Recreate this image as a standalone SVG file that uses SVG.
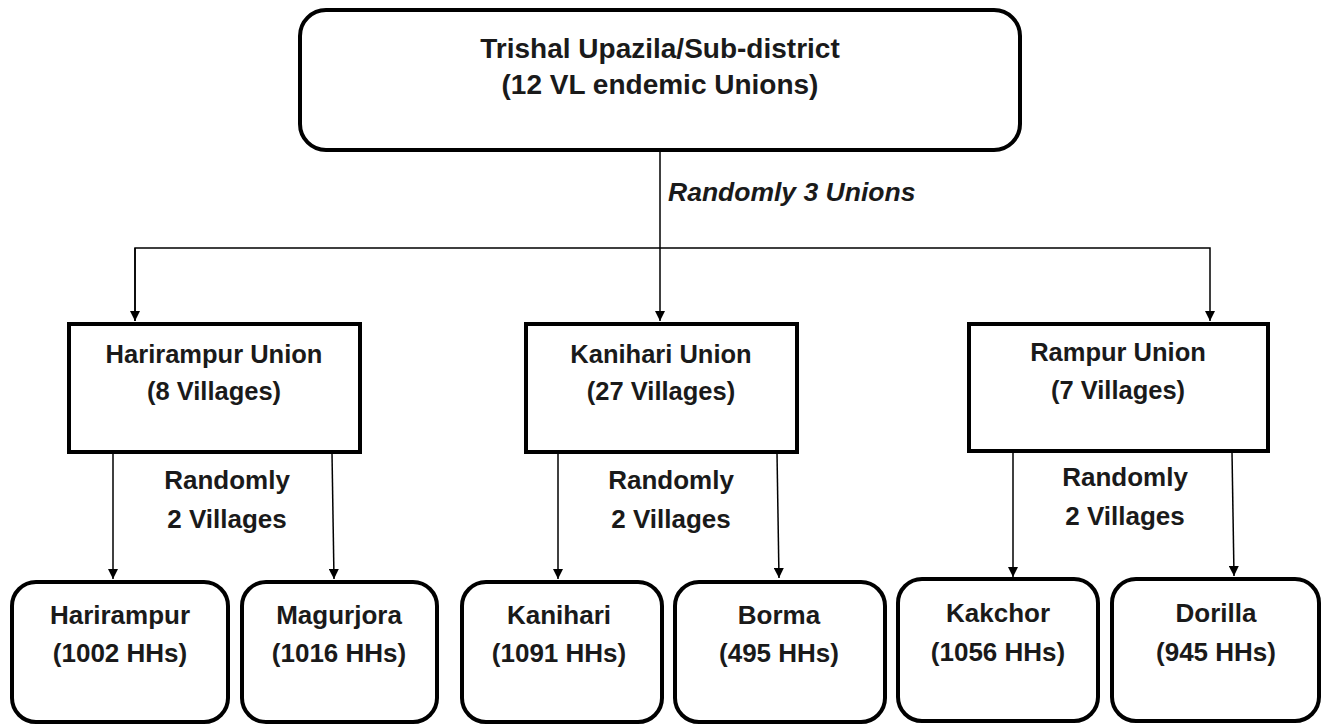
<svg xmlns="http://www.w3.org/2000/svg" width="1323" height="724" viewBox="0 0 1323 724">
<defs>
<marker id="ah" viewBox="0 0 10 10" refX="10" refY="5" markerWidth="10" markerHeight="10" markerUnits="userSpaceOnUse" orient="auto">
<path d="M0,0 L10,5 L0,10 z" fill="#000"/>
</marker>
<style>
.box{fill:#fff;stroke:#000;stroke-width:4}
.t{font-family:"Liberation Sans",Arial,sans-serif;font-weight:bold;font-size:26px;fill:#1a1a1a;text-anchor:middle}
.h{font-size:28px}
.u{font-size:25.5px}
.it{font-family:"Liberation Sans",Arial,sans-serif;font-weight:bold;font-style:italic;font-size:26.5px;fill:#1a1a1a}
.c{fill:none;stroke:#000;stroke-width:1.5}
</style>
</defs>
<rect width="1323" height="724" fill="#fff"/>
<g id="connectors">
<line class="c" x1="660" y1="150" x2="660" y2="321" marker-end="url(#ah)"/>
<polyline class="c" points="135,321 135,248 1210,248 1210,321" marker-end="url(#ah)"/>
<path class="c" d="M135,248 L135,321" marker-end="url(#ah)"/>
<line class="c" x1="113" y1="453" x2="113" y2="579" marker-end="url(#ah)"/>
<line class="c" x1="332" y1="453" x2="334" y2="579" marker-end="url(#ah)"/>
<line class="c" x1="558" y1="453" x2="558" y2="579" marker-end="url(#ah)"/>
<line class="c" x1="777" y1="453" x2="779" y2="578" marker-end="url(#ah)"/>
<line class="c" x1="1013" y1="452" x2="1013" y2="577" marker-end="url(#ah)"/>
<line class="c" x1="1232" y1="452" x2="1234" y2="576" marker-end="url(#ah)"/>
<text class="it" x="668" y="201">Randomly 3 Unions</text>
<text class="t" x="227" y="489">Randomly</text>
<text class="t" x="227" y="528">2 Villages</text>
<text class="t" x="671" y="489">Randomly</text>
<text class="t" x="671" y="528">2 Villages</text>
<text class="t" x="1125" y="486">Randomly</text>
<text class="t" x="1125" y="525">2 Villages</text>
</g>
<g id="trishal">
<rect class="box" x="300" y="10" width="720" height="140" rx="26"/>
<text class="t h" x="660" y="58">Trishal Upazila/Sub-district</text>
<text class="t h" x="660" y="94">(12 VL endemic Unions)</text>
</g>
<g id="harirampur-union">
<rect class="box" x="69" y="324" width="291" height="128"/>
<text class="t u" x="214" y="363">Harirampur Union</text>
<text class="t u" x="214" y="400">(8 Villages)</text>
</g>
<g id="kanihari-union">
<rect class="box" x="526" y="324" width="271" height="128"/>
<text class="t u" x="661" y="363">Kanihari Union</text>
<text class="t u" x="661" y="400">(27 Villages)</text>
</g>
<g id="rampur-union">
<rect class="box" x="969" y="324" width="299" height="127"/>
<text class="t u" x="1118" y="361">Rampur Union</text>
<text class="t u" x="1118" y="399">(7 Villages)</text>
</g>
<g id="harirampur">
<rect class="box" x="12" y="582" width="216" height="140" rx="24"/>
<text class="t" x="120" y="624">Harirampur</text>
<text class="t" x="120" y="662">(1002 HHs)</text>
</g>
<g id="magurjora">
<rect class="box" x="242" y="582" width="195" height="140" rx="24"/>
<text class="t" x="339" y="624">Magurjora</text>
<text class="t" x="339" y="662">(1016 HHs)</text>
</g>
<g id="kanihari">
<rect class="box" x="462" y="582" width="200" height="140" rx="24"/>
<text class="t" x="559" y="624">Kanihari</text>
<text class="t" x="559" y="662">(1091 HHs)</text>
</g>
<g id="borma">
<rect class="box" x="675" y="582" width="210" height="140" rx="24"/>
<text class="t" x="779" y="624">Borma</text>
<text class="t" x="779" y="662">(495 HHs)</text>
</g>
<g id="kakchor">
<rect class="box" x="898" y="579" width="200" height="142" rx="24"/>
<text class="t" x="998" y="622">Kakchor</text>
<text class="t" x="998" y="661">(1056 HHs)</text>
</g>
<g id="dorilla">
<rect class="box" x="1112" y="579" width="207" height="142" rx="24"/>
<text class="t" x="1216" y="622">Dorilla</text>
<text class="t" x="1216" y="661">(945 HHs)</text>
</g>
</svg>
